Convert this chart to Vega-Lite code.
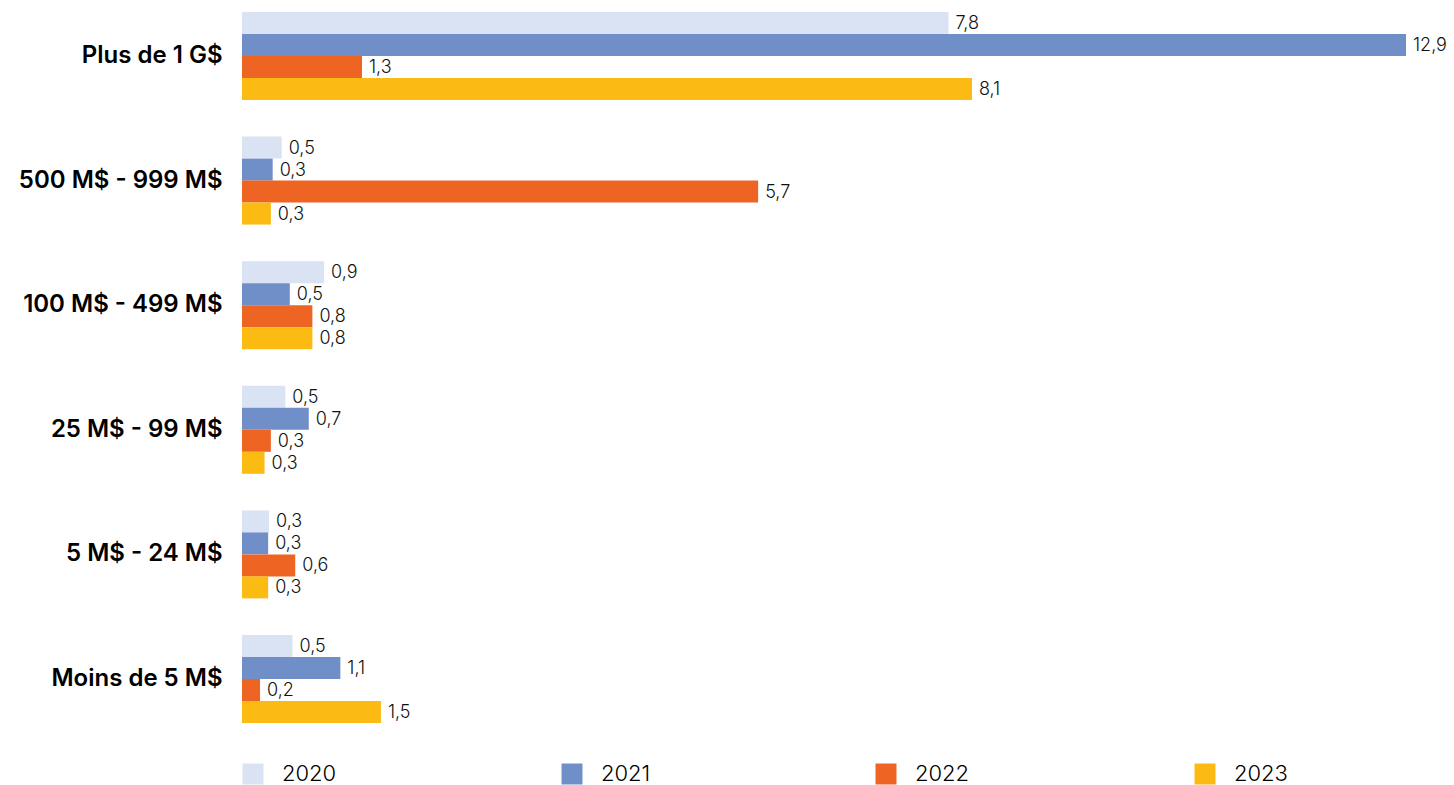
{
  "$schema": "https://vega.github.io/schema/vega-lite/v6.json",
  "autosize": {"type": "none"},
  "padding": {"left": 242, "top": 12, "right": 48, "bottom": 62},
  "width": 1164,
  "height": 711,
  "background": "white",
  "config": {"view": {"stroke": null}},
  "data": {"values": [
    {"cat": "Plus de 1 G$", "year": "2020", "value": 7.83, "label": "7,8"},
    {"cat": "Plus de 1 G$", "year": "2021", "value": 12.9, "label": "12,9"},
    {"cat": "Plus de 1 G$", "year": "2022", "value": 1.33, "label": "1,3"},
    {"cat": "Plus de 1 G$", "year": "2023", "value": 8.09, "label": "8,1"},
    {"cat": "500 M$ - 999 M$", "year": "2020", "value": 0.44, "label": "0,5"},
    {"cat": "500 M$ - 999 M$", "year": "2021", "value": 0.34, "label": "0,3"},
    {"cat": "500 M$ - 999 M$", "year": "2022", "value": 5.72, "label": "5,7"},
    {"cat": "500 M$ - 999 M$", "year": "2023", "value": 0.32, "label": "0,3"},
    {"cat": "100 M$ - 499 M$", "year": "2020", "value": 0.91, "label": "0,9"},
    {"cat": "100 M$ - 499 M$", "year": "2021", "value": 0.53, "label": "0,5"},
    {"cat": "100 M$ - 499 M$", "year": "2022", "value": 0.78, "label": "0,8"},
    {"cat": "100 M$ - 499 M$", "year": "2023", "value": 0.78, "label": "0,8"},
    {"cat": "25 M$ - 99 M$", "year": "2020", "value": 0.48, "label": "0,5"},
    {"cat": "25 M$ - 99 M$", "year": "2021", "value": 0.74, "label": "0,7"},
    {"cat": "25 M$ - 99 M$", "year": "2022", "value": 0.32, "label": "0,3"},
    {"cat": "25 M$ - 99 M$", "year": "2023", "value": 0.25, "label": "0,3"},
    {"cat": "5 M$ - 24 M$", "year": "2020", "value": 0.3, "label": "0,3"},
    {"cat": "5 M$ - 24 M$", "year": "2021", "value": 0.29, "label": "0,3"},
    {"cat": "5 M$ - 24 M$", "year": "2022", "value": 0.59, "label": "0,6"},
    {"cat": "5 M$ - 24 M$", "year": "2023", "value": 0.29, "label": "0,3"},
    {"cat": "Moins de 5 M$", "year": "2020", "value": 0.56, "label": "0,5"},
    {"cat": "Moins de 5 M$", "year": "2021", "value": 1.09, "label": "1,1"},
    {"cat": "Moins de 5 M$", "year": "2022", "value": 0.2, "label": "0,2"},
    {"cat": "Moins de 5 M$", "year": "2023", "value": 1.54, "label": "1,5"}
  ]},
  "encoding": {
    "y": {
      "field": "cat", "type": "nominal", "sort": null,
      "scale": {"paddingInner": 0.294, "paddingOuter": 0},
      "axis": {"title": null, "domain": false, "ticks": false, "labelFontSize": 24, "labelFontWeight": 600, "labelFont": "Inter", "labelColor": "#000", "labelPadding": 20, "labelLimit": 300}
    },
    "yOffset": {"field": "year", "type": "nominal", "scale": {"paddingInner": 0, "paddingOuter": 0}},
    "x": {
      "field": "value", "type": "quantitative",
      "scale": {"domain": [0, 12.9], "nice": false, "zero": true},
      "axis": null
    }
  },
  "layer": [
    {
      "mark": {"type": "bar", "cornerRadius": 0},
      "encoding": {
        "color": {
          "field": "year", "type": "nominal",
          "scale": {"domain": ["2020", "2021", "2022", "2023"], "range": ["#dae3f3", "#708fc8", "#ee6423", "#fbbb12"]},
          "legend": {
            "title": null, "orient": "none", "direction": "horizontal", "columns": 4,
            "legendX": 0, "legendY": 751,
            "symbolType": "square", "symbolSize": 440, "symbolStrokeWidth": 0,
            "labelFontSize": 22, "labelFont": "Inter", "labelFontWeight": 300, "labelColor": "#000", "labelOffset": 18,
            "columnPadding": 224, "padding": 0
          }
        }
      }
    },
    {
      "mark": {"type": "text", "align": "left", "baseline": "middle", "dx": 7, "dy": 1, "fontSize": 18, "font": "Inter", "fontWeight": 300, "color": "#111"},
      "encoding": {"text": {"field": "label"}}
    }
  ]
}
